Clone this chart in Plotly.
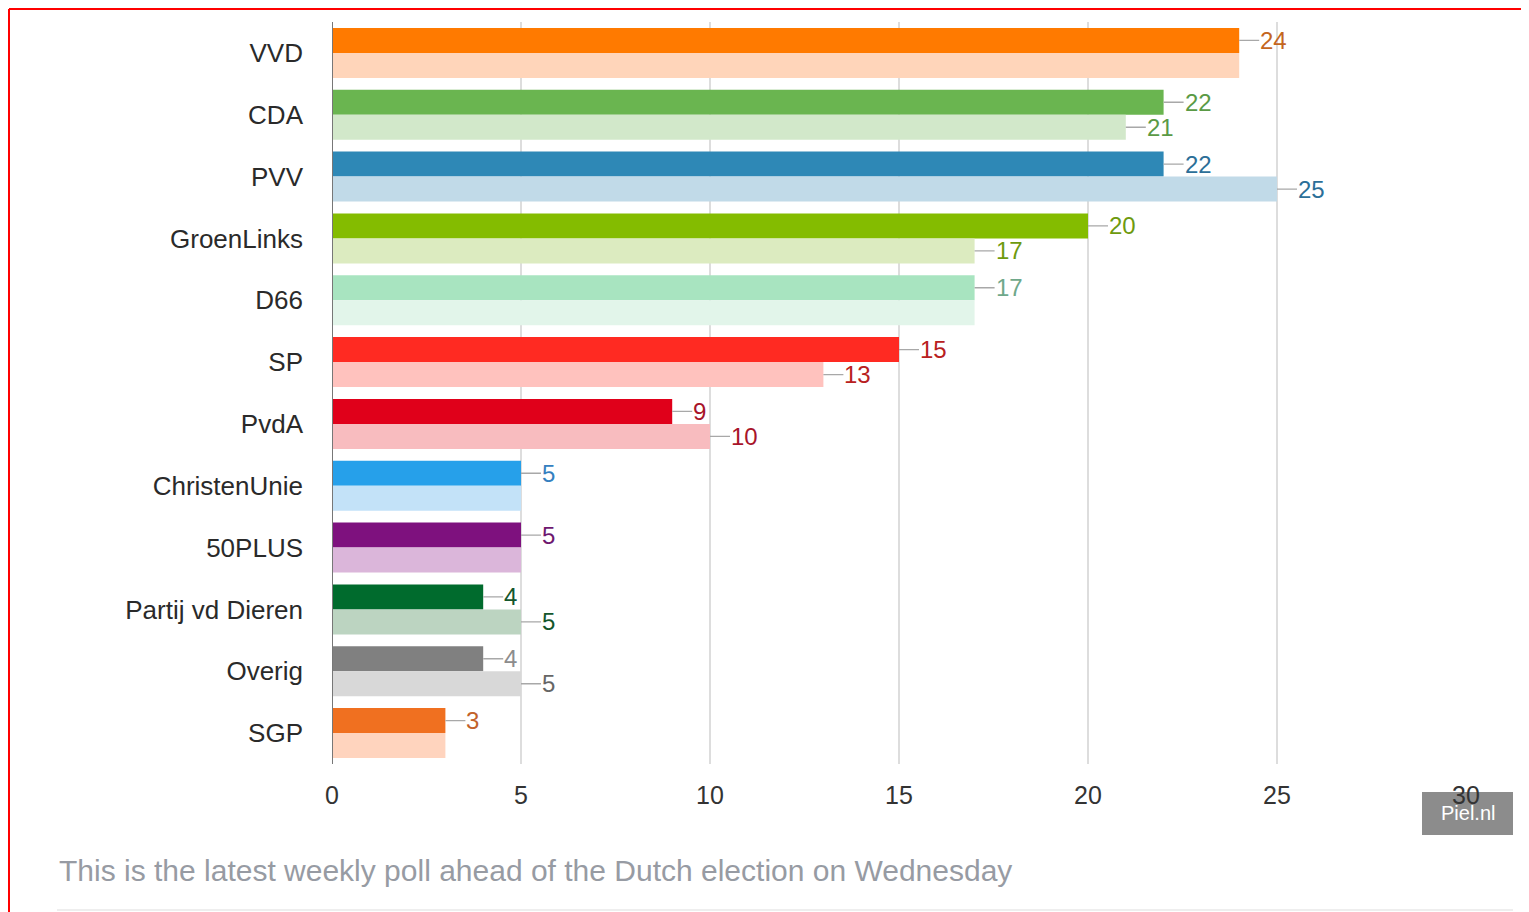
import plotly.graph_objects as go

# ---- data ----
parties = ["VVD", "CDA", "PVV", "GroenLinks", "D66", "SP", "PvdA",
           "ChristenUnie", "50PLUS", "Partij vd Dieren", "Overig", "SGP"]
latest = [24, 22, 22, 20, 17, 15, 9, 5, 5, 4, 4, 3]
previous = [24, 21, 25, 17, 17, 13, 10, 5, 5, 5, 5, 3]
x_ticks = [0, 5, 10, 15, 20, 25, 30]

dark_colors = ["#FF7A00", "#6AB550", "#2E88B6", "#84BC00", "#A8E4C0", "#FF2A22",
               "#E0001A", "#26A0EA", "#7E117E", "#006B2D", "#808080", "#F07020"]
light_colors = ["#FFD5BA", "#D2E8CA", "#C1DAE8", "#DCEBC0", "#E2F5EA", "#FFC2BE",
                "#F8BCBF", "#C3E2F8", "#DBB6DA", "#BCD4C1", "#D8D8D8", "#FFD4BE"]
label_dark = ["#C4661E", "#5A9A45", "#2C6F98", "#6E9A0E", "#6FA88A", "#B82020",
              "#A8142A", "#3580C0", "#6E1870", "#14562C", "#8C8C8C", "#C2622A"]
label_light = ["#C4661E", "#5A9A45", "#2C6F98", "#6E9A0E", "#6FA88A", "#B82020",
               "#A8142A", "#3580C0", "#6E1870", "#14562C", "#666666", "#C2622A"]
caption = "This is the latest weekly poll ahead of the Dutch election on Wednesday"

FONT = "Liberation Sans, Arial, sans-serif"
OFF = 8  # page body margin
W, H = 1529 - OFF, 912 - OFF
ML, MR, MT, MB = 332 - OFF, 1529 - 1466, 22 - OFF, 912 - 764
pw, ph = W - ML - MR, H - MT - MB
BARGAP = 0.191


def px_x(px):
    return (px - OFF - ML) / pw


def px_y(py):
    return (H - MB - (py - OFF)) / ph


fig = go.Figure()
fig.add_trace(go.Bar(y=parties, x=latest, orientation="h", marker=dict(color=dark_colors, line_width=0),
                     hoverinfo="skip", showlegend=False))
fig.add_trace(go.Bar(y=parties, x=previous, orientation="h", marker=dict(color=light_colors, line_width=0),
                     hoverinfo="skip", showlegend=False))

off = (1 - BARGAP) / 4
annotations = []


def label(xv, yv, text, color):
    annotations.append(dict(x=xv, y=yv, xref="x", yref="y", text=text, showarrow=True,
                            arrowhead=0, arrowwidth=1.4, arrowcolor="#A8A8A8", ax=20, ay=0,
                            xanchor="left", yanchor="middle", borderpad=0, standoff=0,
                            font=dict(family=FONT, size=24, color=color)))


for i, p in enumerate(parties):
    label(latest[i], i - off, str(latest[i]), label_dark[i])
    if previous[i] != latest[i]:
        label(previous[i], i + off, str(previous[i]), label_light[i])

# caption and watermark
annotations.append(dict(x=px_x(57), y=px_y(870), xref="paper", yref="paper", text=caption,
                        showarrow=False, xanchor="left", yanchor="middle",
                        font=dict(family=FONT, size=30, color="#979BA3")))
annotations.append(dict(x=px_x(1467.5), y=px_y(813), xref="paper", yref="paper", text="Piel.nl",
                        showarrow=False, xanchor="center", yanchor="middle",
                        font=dict(family=FONT, size=20, color="#FFFFFF")))

shapes = [
    dict(type="rect", xref="paper", yref="paper", x0=px_x(1422), x1=px_x(1513),
         y0=px_y(835), y1=px_y(792), fillcolor="#8C8C8C", line_width=0, layer="below"),
    dict(type="line", xref="paper", yref="paper", x0=px_x(57), x1=px_x(1513),
         y0=px_y(910), y1=px_y(910), line=dict(color="#E8E8E8", width=1.5)),
    dict(type="line", xref="paper", yref="paper", x0=px_x(9), x1=px_x(1530),
         y0=px_y(9), y1=px_y(9), line=dict(color="#FF0000", width=2)),
    dict(type="line", xref="paper", yref="paper", x0=px_x(9), x1=px_x(9),
         y0=px_y(9), y1=px_y(913), line=dict(color="#FF0000", width=2)),
]

fig.update_layout(
    width=W, height=H,
    margin=dict(l=ML, r=MR, t=MT, b=MB, pad=0),
    paper_bgcolor="white", plot_bgcolor="white",
    barmode="group", bargap=BARGAP, bargroupgap=0,
    font=dict(family=FONT, color="#333333"),
    annotations=annotations, shapes=shapes,
    xaxis=dict(range=[0, 30], tickvals=x_ticks, showgrid=True, gridcolor="#DDDDDD", gridwidth=1.5,
               zeroline=False, showline=False, ticks="", ticklabelstandoff=14,
               tickfont=dict(family=FONT, size=25, color="#333333"), fixedrange=True),
    yaxis=dict(type="category", autorange="reversed", showgrid=False, zeroline=False,
               showline=False, ticks="", ticklabelstandoff=28,
               tickfont=dict(family=FONT, size=26, color="#2A2A2A"), fixedrange=True),
)
# left axis line at x=0
fig.add_vline(x=0, line=dict(color="#777777", width=2), layer="above")

fig.write_html("out.html")
